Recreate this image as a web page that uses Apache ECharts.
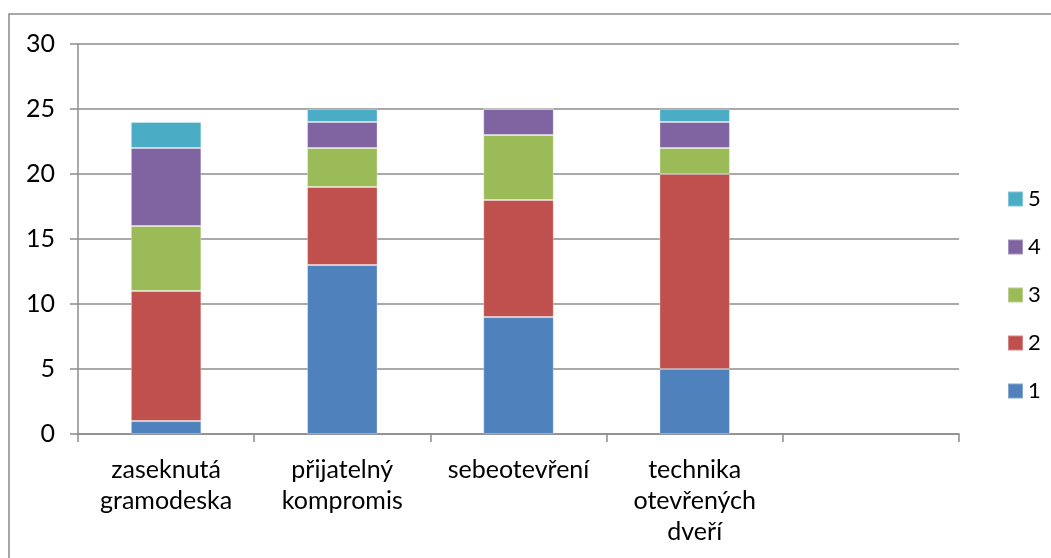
<!DOCTYPE html>
<html>
<head>
<meta charset="utf-8">
<style>
  html, body { margin: 0; padding: 0; background: #ffffff; }
  #chart { width: 1051px; height: 558px; }
</style>
<script src="https://cdn.jsdelivr.net/npm/echarts@6/dist/echarts.min.js"></script>
</head>
<body>
<div id="chart"></div>
<script>
// Categories (the last slot is intentionally left empty)
const categories = ['zaseknutá\ngramodeska', 'přijatelný\nkompromis', 'sebeotevření', 'technika\notevřených\ndveří', ''];

// Counts per rating, stacked from 1 (bottom) to 5 (top)
const rating1 = [1, 13, 9, 5, null];
const rating2 = [10, 6, 9, 15, null];
const rating3 = [5, 3, 5, 2, null];
const rating4 = [6, 2, 2, 2, null];
const rating5 = [2, 1, 0, 1, null];

const seriesNames = ['1', '2', '3', '4', '5'];
const seriesValues = [rating1, rating2, rating3, rating4, rating5];
const seriesColors = ['#4F81BD', '#C0504D', '#9BBB59', '#8064A2', '#4BACC6'];

const yTicks = { min: 0, max: 30, interval: 5 };

const FONT = 'Lato';
const GRID_COLOR = '#8c8c8c';

const chart = echarts.init(document.getElementById('chart'), null, { renderer: 'canvas' });

chart.setOption({
  animation: false,
  backgroundColor: '#ffffff',
  textStyle: { fontFamily: FONT, color: '#000000' },
  graphic: [{
    type: 'rect',
    silent: true,
    shape: { x: 9, y: 14, width: 1100, height: 600 },
    style: { fill: 'none', stroke: '#8a8a8a', lineWidth: 1.5 }
  }],
  grid: { left: 78, right: 92, top: 44, bottom: 124, containLabel: false },
  legend: {
    orient: 'vertical',
    left: 1002,
    top: 183,
    data: ['5', '4', '3', '2', '1'],
    itemWidth: 15,
    itemHeight: 15,
    itemGap: 26,
    itemTextGap: 8,
    icon: 'rect',
    textStyle: { fontFamily: FONT, fontSize: 22, lineHeight: 22, color: '#000000' }
  },
  xAxis: {
    type: 'category',
    data: categories,
    boundaryGap: true,
    axisLine: { show: true, lineStyle: { color: GRID_COLOR, width: 1.5 } },
    axisTick: { show: true, length: 8, inside: false, alignWithLabel: false, lineStyle: { color: GRID_COLOR, width: 1.5 } },
    axisLabel: {
      interval: 0,
      margin: 20,
      fontFamily: FONT,
      fontSize: 25,
      lineHeight: 31,
      color: '#000000',
      align: 'center'
    },
    splitLine: { show: false }
  },
  yAxis: {
    type: 'value',
    min: yTicks.min,
    max: yTicks.max,
    interval: yTicks.interval,
    axisLine: { show: true, lineStyle: { color: GRID_COLOR, width: 1.5 } },
    axisTick: { show: true, length: 8, inside: false, lineStyle: { color: GRID_COLOR, width: 1.5 } },
    axisLabel: { margin: 23, fontFamily: FONT, fontSize: 25, color: '#000000' },
    splitLine: { show: true, lineStyle: { color: GRID_COLOR, width: 1.5 } }
  },
  series: seriesNames.map((name, i) => ({
    name: name,
    type: 'bar',
    stack: 'total',
    barWidth: '40%',
    data: seriesValues[i],
    itemStyle: {
      color: seriesColors[i],
      borderColor: 'rgba(255,255,255,0.3)',
      borderWidth: 1
    },
    emphasis: { disabled: true }
  }))
});
</script>
</body>
</html>
